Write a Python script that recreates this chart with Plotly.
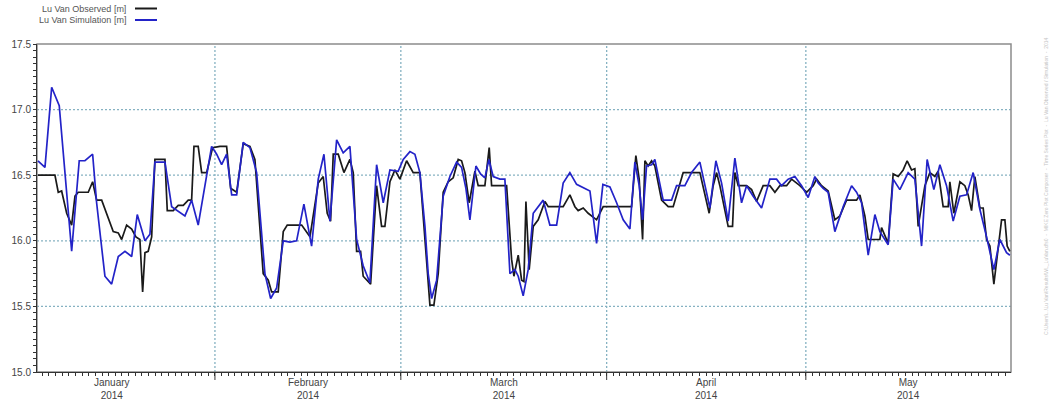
import pandas as pd
import plotly.graph_objects as go

# Water level at Lu Van, Jan-May 2014.  Time is given as days since 2014-01-01.
obs_day = [
    4.34, 6.90, 7.40, 7.91, 8.67, 9.42, 9.92, 10.41, 11.92, 12.58,
    13.18, 13.94, 15.68, 16.44, 16.95, 17.70, 18.46, 19.10, 19.70, 20.11,
    20.46, 20.95, 21.47, 21.96, 23.47, 23.82, 24.72, 25.47, 26.23, 26.98,
    27.49, 27.84, 28.48, 29.00, 29.75, 30.65, 31.75, 32.76, 33.36, 34.27,
    35.26, 36.27, 37.02, 38.27, 39.03, 39.54, 40.53, 41.29, 41.89, 44.06,
    45.31, 46.56, 47.31, 47.91, 48.42, 48.82, 49.57, 50.43, 51.33, 51.83,
    52.34, 52.94, 53.33, 53.85, 54.45, 55.35, 56.10, 56.60, 57.36, 58.11,
    58.86, 59.87, 60.86, 61.87, 62.63, 63.12, 63.38, 63.98, 64.63, 65.38,
    66.13, 66.89, 67.64, 68.15, 68.65, 69.30, 70.16, 70.65, 71.66, 72.31,
    72.67, 74.93, 75.68, 76.03, 76.68, 77.19, 77.54, 77.84, 78.33, 78.94,
    79.69, 80.70, 81.20, 83.45, 84.46, 85.22, 85.71, 86.47, 87.22, 88.48,
    89.48, 93.75, 94.40, 94.90, 95.41, 95.76, 96.25, 96.77, 97.26, 98.27,
    99.27, 100.02, 101.53, 104.04, 104.79, 105.44, 106.04, 106.56, 107.05, 108.30,
    108.96, 109.31, 109.81, 111.07, 111.83, 112.58, 113.57, 114.58, 115.34, 116.09,
    117.10, 117.85, 119.10, 120.11, 121.10, 121.62, 122.37, 123.36, 124.37, 125.13,
    126.13, 127.64, 128.14, 128.89, 129.39, 131.15, 131.40, 132.40, 133.15, 133.91,
    134.66, 135.26, 135.92, 136.42, 136.92, 137.93, 138.68, 139.43, 139.93, 140.68,
    141.44, 141.69, 142.29, 143.20, 143.95, 144.45, 144.96, 145.46, 146.21, 146.71,
    147.22, 147.72, 148.32, 148.81, 149.48, 149.98, 150.32, 150.73,
]
obs_level = [
    16.50, 16.50, 16.37, 16.38, 16.21, 16.12, 16.34, 16.37, 16.37, 16.45,
    16.31, 16.31, 16.07, 16.06, 16.01, 16.12, 16.09, 16.03, 16.01, 15.61,
    15.91, 15.92, 16.03, 16.62, 16.62, 16.23, 16.23, 16.27, 16.27, 16.31,
    16.31, 16.72, 16.72, 16.52, 16.52, 16.71, 16.72, 16.72, 16.40, 16.37,
    16.74, 16.72, 16.62, 15.75, 15.70, 15.61, 15.61, 16.07, 16.12, 16.12,
    16.03, 16.44, 16.49, 16.21, 16.15, 16.66, 16.66, 16.52, 16.62, 16.52,
    15.92, 15.92, 15.73, 15.70, 15.67, 16.42, 16.11, 16.11, 16.45, 16.54,
    16.47, 16.61, 16.52, 16.52, 16.01, 15.65, 15.51, 15.51, 15.75, 16.37,
    16.45, 16.48, 16.62, 16.61, 16.52, 16.29, 16.53, 16.42, 16.42, 16.71,
    16.42, 16.42, 15.86, 15.73, 15.89, 15.70, 15.69, 16.30, 15.78, 16.11,
    16.16, 16.30, 16.26, 16.26, 16.35, 16.26, 16.23, 16.25, 16.21, 16.16,
    16.26, 16.26, 16.65, 16.47, 16.01, 16.61, 16.57, 16.61, 16.57, 16.31,
    16.26, 16.26, 16.52, 16.52, 16.34, 16.21, 16.42, 16.52, 16.42, 16.11,
    16.11, 16.52, 16.42, 16.42, 16.39, 16.30, 16.42, 16.42, 16.37, 16.42,
    16.42, 16.47, 16.42, 16.37, 16.42, 16.47, 16.42, 16.38, 16.16, 16.19,
    16.31, 16.31, 16.35, 16.19, 16.01, 16.01, 16.10, 15.98, 16.51, 16.49,
    16.54, 16.61, 16.54, 16.55, 16.11, 16.42, 16.52, 16.49, 16.53, 16.26,
    16.26, 16.45, 16.21, 16.45, 16.42, 16.35, 16.23, 16.49, 16.25, 16.25,
    16.01, 15.96, 15.67, 15.86, 16.16, 16.16, 15.96, 15.92,
]

sim_day = [
    4.34, 5.40, 6.41, 7.55, 9.42, 10.56, 11.42, 12.58, 13.18, 14.43,
    15.44, 16.44, 17.45, 18.46, 19.30, 20.46, 21.21, 21.96, 23.47, 24.48,
    26.48, 27.49, 28.48, 30.50, 31.26, 32.01, 32.76, 33.52, 34.27, 35.26,
    36.27, 37.28, 38.53, 39.39, 40.29, 41.29, 42.30, 43.30, 44.40, 45.56,
    46.56, 47.42, 48.32, 49.33, 50.32, 51.33, 52.34, 53.33, 54.34, 55.35,
    56.35, 57.36, 58.60, 59.36, 60.37, 61.12, 61.87, 62.63, 63.12, 63.64,
    64.39, 65.38, 66.39, 67.40, 68.15, 68.80, 69.40, 70.31, 71.01, 71.66,
    72.26, 72.91, 73.92, 74.67, 75.43, 76.18, 76.68, 77.43, 78.18, 78.94,
    80.44, 81.45, 82.46, 83.45, 84.46, 85.47, 87.48, 88.48, 89.43, 90.49,
    91.50, 92.49, 93.50, 94.25, 94.90, 95.41, 96.01, 96.77, 97.26, 98.02,
    98.51, 99.78, 100.53, 101.78, 102.79, 104.04, 104.79, 105.55, 106.45, 107.31,
    108.30, 109.31, 110.32, 111.07, 112.07, 113.33, 114.58, 115.59, 116.34, 117.34,
    118.35, 119.36, 120.35, 121.36, 121.86, 122.61, 123.36, 124.37, 125.62, 126.89,
    127.64, 128.39, 129.39, 130.40, 131.15, 131.65, 132.40, 133.15, 134.16, 135.41,
    136.42, 137.43, 138.27, 139.28, 140.19, 141.19, 142.19, 143.20, 144.21, 145.20,
    146.21, 147.22, 148.32, 149.22, 150.23, 150.73,
]
sim_level = [
    16.61, 16.56, 17.17, 17.03, 15.92, 16.61, 16.61, 16.66, 16.29, 15.73,
    15.67, 15.88, 15.92, 15.88, 16.20, 16.00, 16.05, 16.60, 16.60, 16.26,
    16.19, 16.31, 16.12, 16.72, 16.66, 16.58, 16.66, 16.35, 16.35, 16.75,
    16.71, 16.52, 15.75, 15.56, 15.64, 16.00, 15.99, 16.00, 16.28, 15.96,
    16.47, 16.66, 16.15, 16.77, 16.67, 16.72, 16.01, 15.81, 15.68, 16.58,
    16.29, 16.54, 16.53, 16.62, 16.68, 16.66, 16.52, 16.11, 15.75, 15.56,
    15.70, 16.34, 16.49, 16.60, 16.56, 16.40, 16.16, 16.57, 16.51, 16.48,
    16.62, 16.49, 16.47, 16.47, 15.75, 15.78, 15.73, 15.58, 15.78, 16.21,
    16.31, 16.12, 16.12, 16.44, 16.52, 16.43, 16.38, 15.98, 16.43, 16.41,
    16.29, 16.16, 16.09, 16.60, 16.42, 16.16, 16.57, 16.58, 16.62, 16.44,
    16.31, 16.31, 16.42, 16.42, 16.52, 16.60, 16.42, 16.25, 16.61, 16.44,
    16.15, 16.63, 16.29, 16.42, 16.34, 16.25, 16.47, 16.47, 16.42, 16.47,
    16.49, 16.42, 16.33, 16.49, 16.44, 16.40, 16.37, 16.07, 16.26, 16.42,
    16.37, 16.29, 15.89, 16.20, 16.07, 16.03, 15.97, 16.47, 16.39, 16.52,
    16.47, 15.96, 16.62, 16.39, 16.58, 16.42, 16.15, 16.34, 16.35, 16.52,
    16.24, 16.03, 15.78, 16.01, 15.91, 15.89,
]

y_ticks = [15.0, 15.5, 16.0, 16.5, 17.0, 17.5]
month_labels = ["January<br>2014", "February<br>2014", "March<br>2014",
                "April<br>2014", "May<br>2014"]
series_names = ["Lu Van Observed [m]", "Lu Van Simulation [m]"]
series_colors = ["#1a1a1a", "#2323c8"]

origin = pd.Timestamp("2014-01-01")


def to_time(days):
    return origin + pd.to_timedelta(days, unit="D")


x_range = [to_time(4.2), to_time(150.9)]
y_range = [15.0, 17.5]

grid_color = "#86b2c2"
axis_color = "#333333"
label_color = "#444444"
font_family = "Liberation Sans, Arial, sans-serif"
ONE_DAY_MS = 86400000

W, H = 1057, 415
ml, mr, mt, mb = 37, 46, 44, 43
pw, ph = W - ml - mr, H - mt - mb


def px_x(px):
    return (px - ml) / pw


def px_y(py):
    return (H - mb - py) / ph


fig = go.Figure()
fig.add_trace(go.Scatter(
    x=to_time(obs_day), y=obs_level, mode="lines", name=series_names[0],
    line=dict(color=series_colors[0], width=1.7), showlegend=False,
))
fig.add_trace(go.Scatter(
    x=to_time(sim_day), y=sim_level, mode="lines", name=series_names[1],
    line=dict(color=series_colors[1], width=1.7), showlegend=False,
))

annotations = []
shapes = []
dot_line = dict(color=grid_color, width=1.3, dash="2px,2px")

# Horizontal grid at the labelled levels (inside the frame).
for v in y_ticks[1:-1]:
    shapes.append(dict(type="line", xref="paper", yref="y", x0=0, x1=1,
                       y0=v, y1=v, line=dot_line, layer="below"))

# Month boundaries: dotted grid line, long tick below the axis, and a
# month/year label centred on each month.
month_starts = pd.date_range("2014-01-01", periods=len(month_labels) + 1, freq="MS")
for i, label in enumerate(month_labels):
    start, stop = month_starts[i], month_starts[i + 1]
    annotations.append(dict(
        xref="x", yref="paper", x=start + (stop - start) / 2, y=px_y(375),
        xanchor="center", yanchor="top", showarrow=False, text=label,
        font=dict(family=font_family, size=10, color=label_color),
    ))
for boundary in month_starts[1:-1]:
    shapes.append(dict(type="line", xref="x", yref="paper", x0=boundary,
                       x1=boundary, y0=0, y1=1, line=dot_line, layer="below"))
    shapes.append(dict(type="line", xref="x", yref="paper", x0=boundary,
                       x1=boundary, y0=0, y1=px_y(380),
                       line=dict(color=axis_color, width=1)))

# Legend block at the top-left: right-aligned text followed by a line sample.
legend_rows = [8.5, 20.0]
for name, color, row in zip(series_names, series_colors, legend_rows):
    annotations.append(dict(
        xref="paper", yref="paper", x=px_x(128), y=px_y(row),
        xanchor="right", yanchor="middle", showarrow=False, text=name,
        font=dict(family=font_family, size=9, color="#555555"),
    ))
    shapes.append(dict(
        type="line", xref="paper", yref="paper",
        x0=px_x(135), x1=px_x(157), y0=px_y(row), y1=px_y(row),
        line=dict(color=color, width=2),
    ))

# Frame around the plot area (top and right edges show in grey).
shapes.append(dict(
    type="rect", xref="paper", yref="paper", x0=0, x1=1, y0=0, y1=1,
    line=dict(color="#8c8c8c", width=1.5), layer="below",
))

# Faint file-path footer running up the right margin.
annotations.append(dict(
    xref="paper", yref="paper", x=px_x(1046), y=px_y(186),
    xanchor="center", yanchor="middle", showarrow=False, textangle=-90,
    text=("C:\\Users\\...\\Lu Van\\Results\\WL_LuVan.dfs0  -  MIKE Zero Plot Composer"
          "  -  Time Series Plot  -  Lu Van Observed / Simulation  -  2014"),
    font=dict(family=font_family, size=5, color="#c4c4c4"),
))

# Level axis: a tick every 0.05 m, labelled every 0.5 m.
level_ticks = [round(15.0 + 0.05 * k, 2) for k in range(51)]
level_text = [f"{v:.1f}" if v in y_ticks else "" for v in level_ticks]

fig.update_layout(
    width=W, height=H,
    margin=dict(l=ml, r=mr, t=mt, b=mb, pad=0),
    paper_bgcolor="white", plot_bgcolor="white",
    font=dict(family=font_family, size=10, color=label_color),
    annotations=annotations, shapes=shapes,
    xaxis=dict(
        type="date", range=x_range,
        tick0="2014-01-01", dtick=ONE_DAY_MS, showticklabels=False,
        ticks="outside", ticklen=3, tickwidth=1, tickcolor=axis_color,
        showline=True, linecolor=axis_color, linewidth=1,
        showgrid=False, zeroline=False,
    ),
    yaxis=dict(
        range=y_range, tickmode="array", tickvals=level_ticks, ticktext=level_text,
        tickfont=dict(size=10, color=label_color),
        ticks="outside", ticklen=3, tickwidth=1, tickcolor=axis_color,
        showline=True, linecolor=axis_color, linewidth=1,
        showgrid=False, zeroline=False,
    ),
)

fig.write_html("out.html")
